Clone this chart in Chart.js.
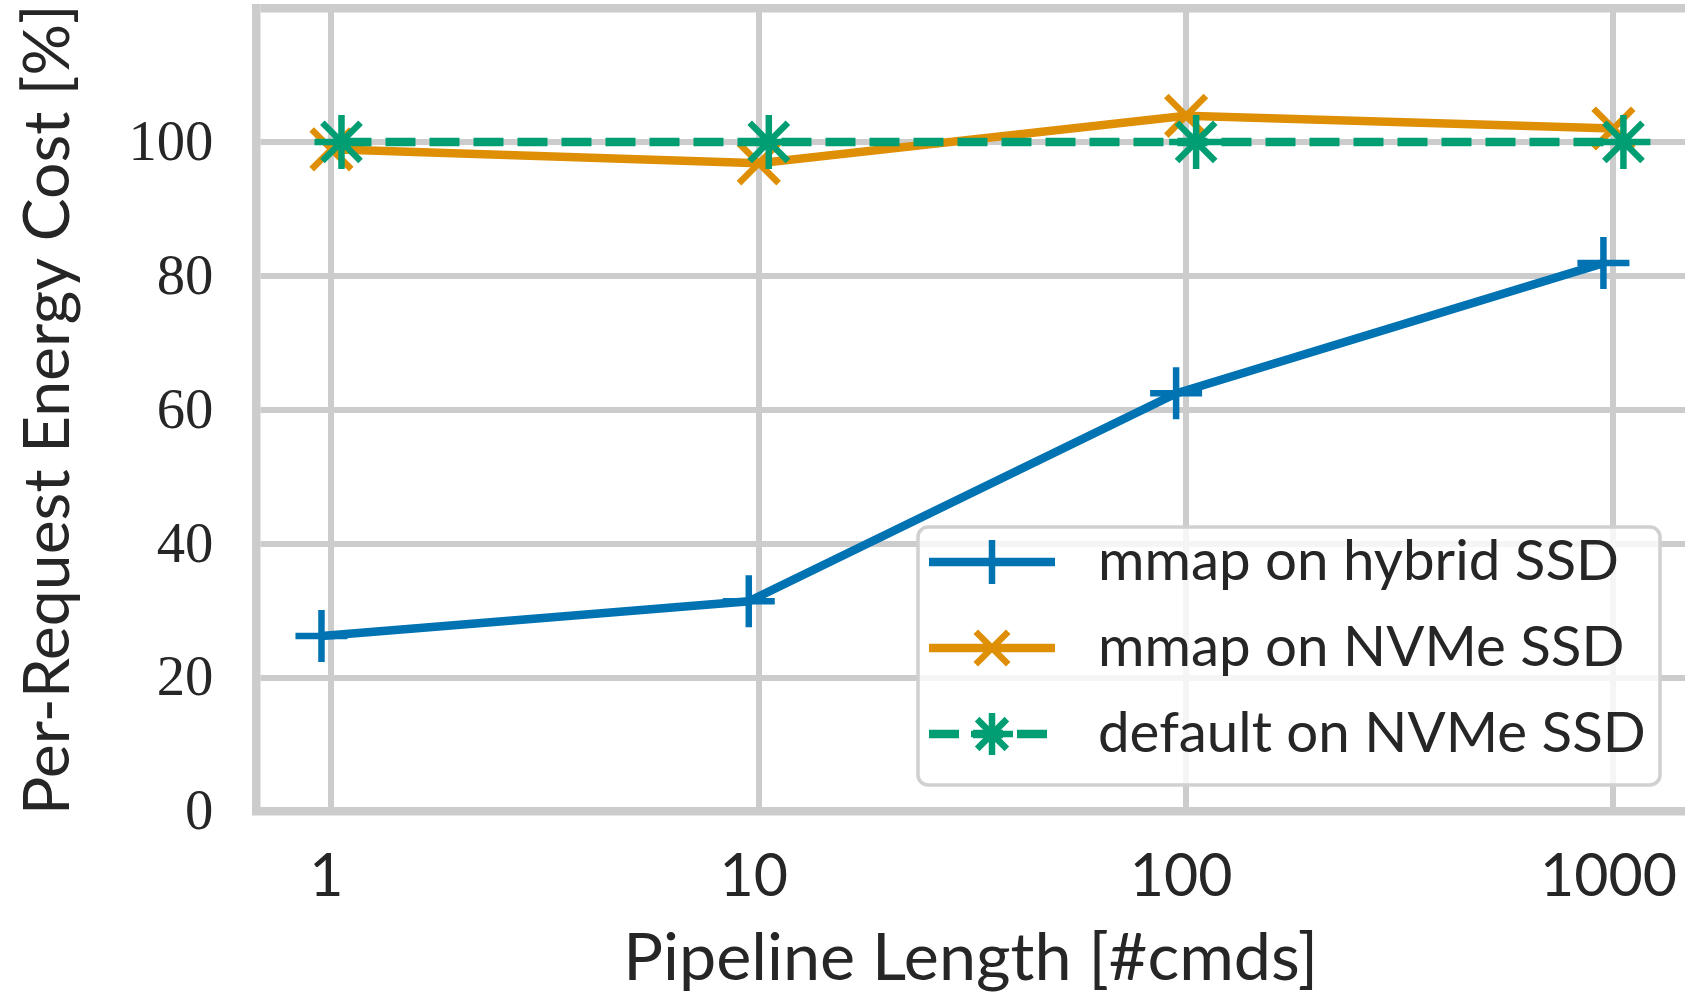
<!DOCTYPE html>
<html>
<head>
<meta charset="utf-8">
<script src="https://cdn.jsdelivr.net/npm/chart.js@4.4.1/dist/chart.umd.min.js"></script>
<style>
  html, body { margin: 0; padding: 0; background: #ffffff; overflow: hidden; }
  #wrap { width: 1685px; height: 998px; position: relative; }
</style>
</head>
<body>
<div id="wrap"><canvas id="c" width="1685" height="998"></canvas></div>
<script>
// ---------- data ----------
const pipelineLengths = [1, 10, 100, 1000];
const xTickLabels = ['1', '10', '100', '1000'];
const yTickValues = [0, 20, 40, 60, 80, 100];
const seriesLabels = ['mmap on hybrid SSD', 'mmap on NVMe SSD', 'default on NVMe SSD'];
const hybridMmap = [26.2, 31.4, 62.45, 81.9];
const nvmeMmap = [98.9, 96.8, 103.9, 102.0];
const nvmeDefault = [100, 100, 100, 100];

// ---------- styling ----------
const COLORS = ['#0173b2', '#de8f05', '#029e73'];
const GRID = '#cccccc';
const TEXT = '#262626';
const SANS = 'Lato, "Open Sans", sans-serif';
const SERIF = '"Liberation Serif", "DejaVu Serif", serif';
const DODGE = 1.0554; // horizontal dodge factor between series (log axis)
const LINE_W = 8.5;
const MARK_W = 6.5;
const GRID_W = 6;
const FRAME_W = 8.5;

function fitSize(text, family, targetWidth) {
  const c = document.createElement('canvas').getContext('2d');
  c.font = '100px ' + family;
  return 100 * targetWidth / c.measureText(text).width;
}

function build() {
  const xTitleSize = fitSize('Pipeline Length [#cmds]', SANS, 695);
  const yTitleSize = fitSize('Per-Request Energy Cost [%]', SANS, 811);
  const xTickSize = fitSize('1000', SANS, 137);
  const yTickSize = fitSize('100', SERIF, 85);
  const legendSize = fitSize('mmap on hybrid SSD', SANS, 521);

  const pts = (vals, f) => vals.map((v, i) => ({ x: pipelineLengths[i] * f, y: v }));

  const datasets = [
    { label: seriesLabels[0], data: pts(hybridMmap, 1 / DODGE), borderColor: COLORS[0],
      pointStyle: 'cross', pointRadius: 26, order: 3, legendRadius: 22 },
    { label: seriesLabels[1], data: pts(nvmeMmap, 1), borderColor: COLORS[1],
      pointStyle: 'crossRot', pointRadius: 28, order: 2, legendRadius: 23 },
    { label: seriesLabels[2], data: pts(nvmeDefault, DODGE), borderColor: COLORS[2],
      borderDash: [30, 14], pointStyle: 'star', pointRadius: 27, order: 1, legendRadius: 21 }
  ];
  datasets.forEach(d => {
    d.fill = false; d.tension = 0; d.borderWidth = LINE_W; d.pointBorderWidth = MARK_W;
    d.pointHoverRadius = d.pointRadius; d.backgroundColor = d.borderColor;
    d.pointBackgroundColor = d.borderColor; d.pointBorderColor = d.borderColor;
  });

  function marker(ctx, style, x, y, r) {
    ctx.beginPath();
    const d = r * Math.SQRT1_2;
    if (style === 'cross' || style === 'star') {
      ctx.moveTo(x - r, y); ctx.lineTo(x + r, y);
      ctx.moveTo(x, y - r); ctx.lineTo(x, y + r);
    }
    if (style === 'crossRot' || style === 'star') {
      ctx.moveTo(x - d, y - d); ctx.lineTo(x + d, y + d);
      ctx.moveTo(x - d, y + d); ctx.lineTo(x + d, y - d);
    }
    ctx.stroke();
  }

  const boxedLegend = {
    id: 'boxedLegend',
    afterDatasetsDraw(chart, args, opts) {
      const ctx = chart.ctx;
      ctx.save();
      ctx.beginPath();
      ctx.roundRect(opts.left, opts.top, opts.right - opts.left, opts.bottom - opts.top, opts.radius);
      ctx.fillStyle = 'rgba(255,255,255,0.8)';
      ctx.fill();
      ctx.strokeStyle = '#d0d0d0';
      ctx.lineWidth = 3.5;
      ctx.stroke();
      chart.data.datasets.forEach((ds, i) => {
        const cy = opts.firstRow + i * opts.rowGap;
        ctx.strokeStyle = ds.borderColor;
        ctx.lineWidth = ds.borderWidth;
        ctx.lineCap = 'butt';
        ctx.setLineDash(ds.borderDash || []);
        ctx.beginPath();
        ctx.moveTo(opts.lineStart, cy);
        ctx.lineTo(opts.lineEnd, cy);
        ctx.stroke();
        ctx.setLineDash([]);
        ctx.lineWidth = ds.pointBorderWidth;
        marker(ctx, ds.pointStyle, (opts.lineStart + opts.lineEnd) / 2, cy, ds.legendRadius);
        ctx.fillStyle = TEXT;
        ctx.font = legendSize.toFixed(2) + 'px ' + SANS;
        ctx.textBaseline = 'middle';
        ctx.textAlign = 'left';
        ctx.fillText(ds.label, opts.textX, cy);
      });
      ctx.restore();
    }
  };

  new Chart(document.getElementById('c').getContext('2d'), {
    type: 'line',
    data: { datasets },
    plugins: [boxedLegend],
    options: {
      responsive: false,
      animation: false,
      devicePixelRatio: 1,
      events: [],
      layout: { autoPadding: false, padding: { top: 8, right: 0, bottom: 0, left: 0 } },
      plugins: {
        legend: { display: false },
        tooltip: { enabled: false },
        boxedLegend: { left: 918, top: 527, right: 1660, bottom: 785, radius: 10,
          firstRow: 562, rowGap: 86, lineStart: 929, lineEnd: 1055, textX: 1098 }
      },
      scales: {
        x: {
          type: 'logarithmic',
          min: Math.pow(10, -0.1757),
          max: Math.pow(10, 3.1675),
          afterBuildTicks: s => { s.ticks = pipelineLengths.map(v => ({ value: v })); },
          afterFit: s => { s.height = 186.5; s.paddingLeft = 0; s.paddingRight = 0; },
          grid: { color: GRID, lineWidth: GRID_W, drawTicks: false },
          border: { color: GRID, width: FRAME_W },
          ticks: {
            autoSkip: false, maxRotation: 0, minRotation: 0,
            callback: v => { const k = pipelineLengths.indexOf(v); return k >= 0 ? xTickLabels[k] : ''; },
            font: { family: SANS, size: xTickSize, lineHeight: 1 },
            color: TEXT, padding: 36, labelOffset: -5
          },
          title: {
            display: true, text: 'Pipeline Length [#cmds]', color: TEXT,
            font: { family: SANS, size: xTitleSize, lineHeight: 1 },
            padding: { top: 0, bottom: Math.max(0, (998 - (984 - 0.387 * xTitleSize)) - xTitleSize / 2) }
          }
        },
        y: {
          min: 0, max: 120,
          afterBuildTicks: s => { s.ticks = yTickValues.concat([120]).map(v => ({ value: v })); },
          afterFit: s => { s.width = 256.4; s.paddingTop = 0; s.paddingBottom = 0; },
          grid: { color: GRID, lineWidth: c => (c.tick && c.tick.value === 120 ? FRAME_W : GRID_W), drawTicks: false },
          border: { color: GRID, width: FRAME_W },
          ticks: {
            callback: v => (yTickValues.indexOf(v) >= 0 ? String(v) : ''),
            font: { family: SERIF, size: yTickSize, lineHeight: 1 },
            color: TEXT, padding: 43, labelOffset: 3
          },
          title: {
            display: true, text: 'Per-Request Energy Cost [%]', color: TEXT,
            font: { family: SANS, size: yTitleSize, lineHeight: 1 },
            padding: { top: Math.max(0, (73 - 0.387 * yTitleSize) - yTitleSize / 2), bottom: 0 }
          }
        }
      }
    }
  });
}

Promise.all([
  document.fonts.load('60px Lato'),
  document.fonts.load('60px "Liberation Serif"')
]).then(build, build);
</script>
</body>
</html>
